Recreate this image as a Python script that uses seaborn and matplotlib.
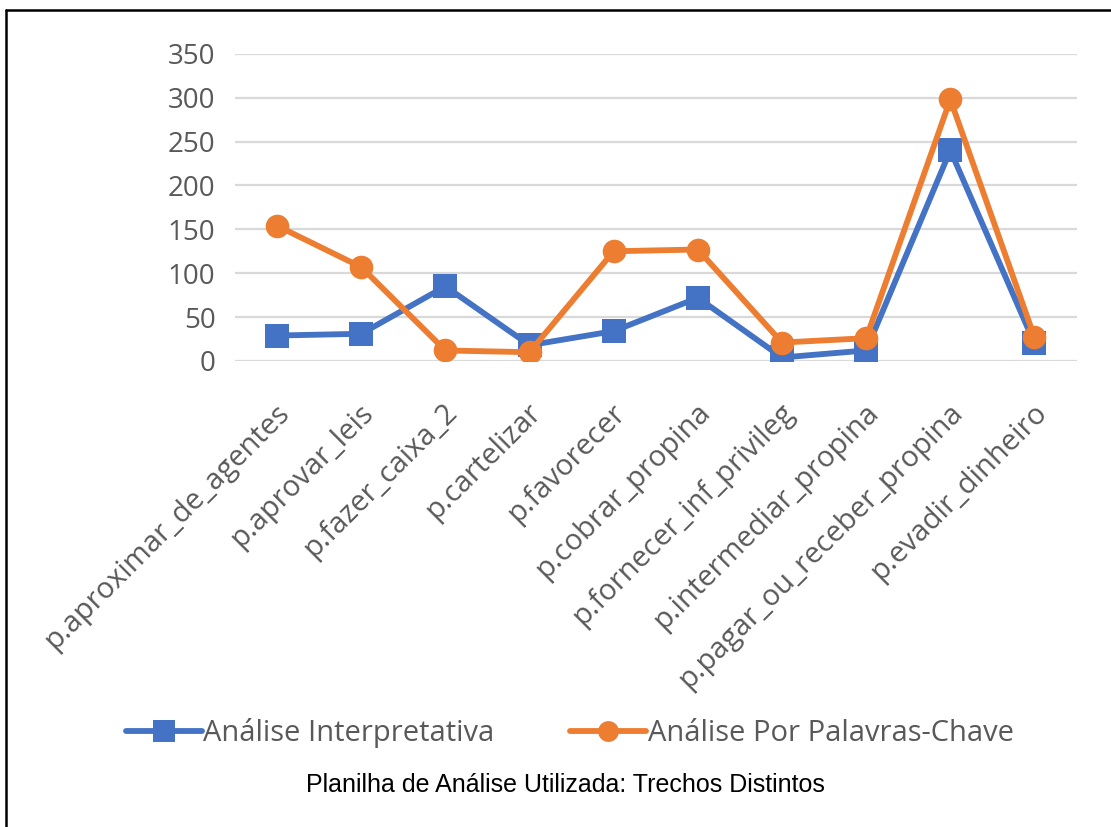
import matplotlib
matplotlib.use("Agg")
import matplotlib.pyplot as plt
import matplotlib.transforms as mtransforms
from matplotlib.lines import Line2D
import seaborn as sns
import pandas as pd

categories = [
    "p.aproximar_de_agentes", "p.aprovar_leis", "p.fazer_caixa_2", "p.cartelizar",
    "p.favorecer", "p.cobrar_propina", "p.fornecer_inf_privileg",
    "p.intermediar_propina", "p.pagar_ou_receber_propina", "p.evadir_dinheiro",
]
interpretativa = [29, 31, 85, 18, 34, 72, 4, 12, 240, 20]
palavras_chave = [154, 107, 12, 10, 125, 127, 21, 26, 298, 27]
series_names = ["Análise Interpretativa", "Análise Por Palavras-Chave"]
y_ticks = [0, 50, 100, 150, 200, 250, 300, 350]
caption = "Planilha de Análise Utilizada: Trechos Distintos"

df = pd.DataFrame({
    "categoria": categories * 2,
    "valor": interpretativa + palavras_chave,
    "serie": [series_names[0]] * len(categories) + [series_names[1]] * len(categories),
})

sns.set_theme(style="white")
plt.rcParams["font.family"] = ["Open Sans", "DejaVu Sans"]

BLUE = "#4472C4"
ORANGE = "#ED7D31"
GREY = "#595959"

fig = plt.figure(figsize=(11.11, 8.27), dpi=100)
ax = fig.add_axes([0.2115, 0.5635, 0.7575, 0.3715])

sns.lineplot(
    data=df, x="categoria", y="valor", hue="serie", style="serie",
    palette={series_names[0]: BLUE, series_names[1]: ORANGE},
    markers={series_names[0]: "s", series_names[1]: "o"},
    dashes=False, sort=False, linewidth=4.2, markersize=17,
    markeredgewidth=0, ax=ax, legend=False,
)

ax.set_xlim(-0.5, len(categories) - 0.5)
ax.set_ylim(0, 350)
ax.set_yticks(y_ticks)
ax.set_xlabel("")
ax.set_ylabel("")
for s in ax.spines.values():
    s.set_visible(False)
ax.yaxis.grid(True, color="#D9D9D9", linewidth=1.6)
ax.xaxis.grid(False)
ax.set_axisbelow(True)

ax.tick_params(axis="y", labelsize=20, labelcolor=GREY, length=0, pad=14)
ax.tick_params(axis="x", labelsize=21, labelcolor=GREY, length=0, pad=34)
ax.set_xticks(range(len(categories)))
ax.set_xticklabels(categories)
offset = mtransforms.ScaledTranslation(8 / 100, 0, fig.dpi_scale_trans)
for lab in ax.get_xticklabels():
    lab.set_rotation(45)
    lab.set_ha("right")
    lab.set_va("center")
    lab.set_rotation_mode("anchor")
    lab.set_transform(lab.get_transform() + offset)

handles = [
    Line2D([], [], color=BLUE, lw=4.2, marker="s", markersize=16, markeredgewidth=0),
    Line2D([], [], color=ORANGE, lw=4.2, marker="o", markersize=15, markeredgewidth=0),
]
fig.legend(
    handles, series_names, loc="center", bbox_to_anchor=(0.513, 1 - 733 / 827),
    ncol=2, frameon=False, fontsize=21, handlelength=2.6, handletextpad=0.05,
    columnspacing=2.6, labelcolor=GREY,
)

fig.text(0.509, 1 - 785 / 827, caption, ha="center", va="center",
         fontsize=18, color="black", family=["Liberation Sans", "DejaVu Sans"])

# outer frame (top and left edges visible in reference)
fig.add_artist(Line2D([6 / 1111, 1], [1 - 10 / 827, 1 - 10 / 827],
                      transform=fig.transFigure, color="black", lw=1.8))
fig.add_artist(Line2D([6 / 1111, 6 / 1111], [0, 1 - 10 / 827],
                      transform=fig.transFigure, color="black", lw=1.8))

fig.savefig("out.png", dpi=100, facecolor="white")
